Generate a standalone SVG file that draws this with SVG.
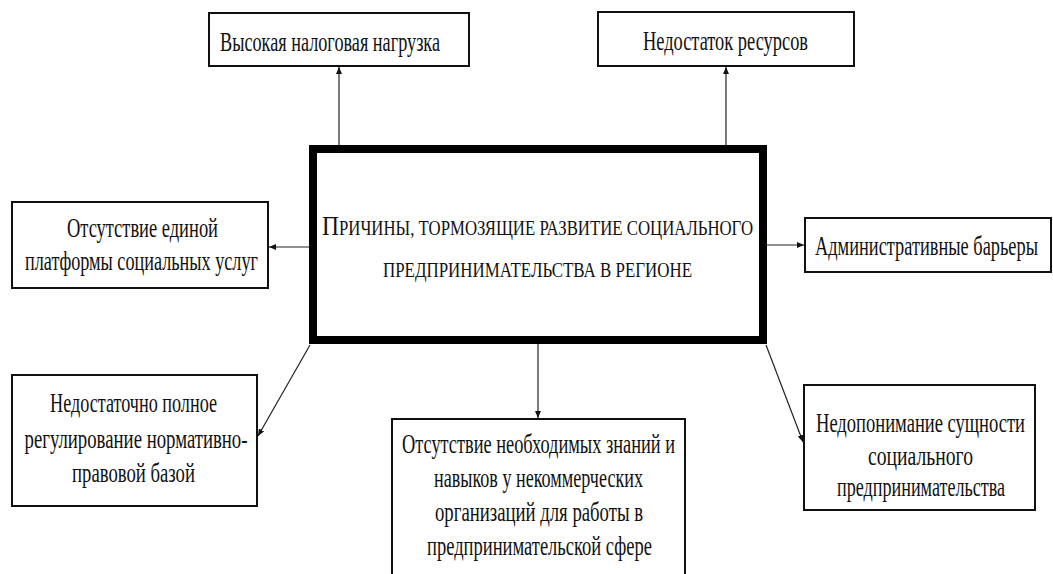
<svg xmlns="http://www.w3.org/2000/svg" width="1053" height="574" viewBox="0 0 1053 574">
<defs>
<style>
.box{fill:#fff;stroke:#111;stroke-width:2}
.main{fill:#fff;stroke:#000;stroke-width:8}
.t{font-family:"Liberation Serif","Times New Roman",serif;font-size:28px;fill:#111;text-anchor:middle}
.mt{font-family:"Liberation Serif","Times New Roman",serif;font-size:20px;fill:#111;text-anchor:middle}
.big{font-size:28px}
.c{stroke:#222;stroke-width:1.2;fill:none;marker-end:url(#ah)}
</style>
<marker id="ah" markerUnits="userSpaceOnUse" markerWidth="8" markerHeight="6" refX="7" refY="3" orient="auto">
<path d="M0,0 L7,3 L0,6 z" fill="#111"/>
</marker>
</defs>
<rect width="1053" height="574" fill="#fff"/>
<g id="connectors">
<line class="c" x1="339" y1="145" x2="339" y2="67"/>
<line class="c" x1="726" y1="145" x2="726" y2="67"/>
<line class="c" x1="309" y1="247" x2="269" y2="247"/>
<line class="c" x1="767" y1="245" x2="804" y2="245"/>
<line class="c" x1="310" y1="345" x2="258" y2="436"/>
<line class="c" x1="538" y1="344" x2="538" y2="418"/>
<line class="c" x1="766" y1="345" x2="803" y2="442"/>
</g>
<g id="main">
<rect class="main" x="313" y="149" width="450" height="191"/>
<text class="mt" transform="translate(537.5,235) scale(0.72,1)" textLength="598.6" lengthAdjust="spacingAndGlyphs"><tspan class="big">П</tspan>РИЧИНЫ, ТОРМОЗЯЩИЕ РАЗВИТИЕ СОЦИАЛЬНОГО</text>
<text class="mt" transform="translate(537.5,277) scale(0.72,1)" textLength="429.2" lengthAdjust="spacingAndGlyphs">ПРЕДПРИНИМАТЕЛЬСТВА В РЕГИОНЕ</text>
</g>
<g id="n1">
<rect class="box" x="209" y="13" width="260" height="53"/>
<text class="t" transform="translate(330,51) scale(0.72,1)" textLength="305.6" lengthAdjust="spacingAndGlyphs">Высокая налоговая нагрузка</text>
</g>
<g id="n2">
<rect class="box" x="598" y="12" width="256" height="54"/>
<text class="t" transform="translate(725.5,50) scale(0.72,1)" textLength="229.2" lengthAdjust="spacingAndGlyphs">Недостаток ресурсов</text>
</g>
<g id="n3">
<rect class="box" x="12" y="202" width="256" height="86"/>
<text class="t" transform="translate(142.5,237) scale(0.72,1)" textLength="209.7" lengthAdjust="spacingAndGlyphs">Отсутствие единой</text>
<text class="t" transform="translate(141.5,270) scale(0.72,1)" textLength="323.6" lengthAdjust="spacingAndGlyphs">платформы социальных услуг</text>
</g>
<g id="n4">
<rect class="box" x="805" y="218" width="246" height="54"/>
<text class="t" transform="translate(926.5,255) scale(0.62,1)" textLength="359.7" lengthAdjust="spacingAndGlyphs">Административные барьеры</text>
</g>
<g id="n5">
<rect class="box" x="12" y="375" width="245" height="131"/>
<text class="t" transform="translate(133.5,412) scale(0.72,1)" textLength="231.9" lengthAdjust="spacingAndGlyphs">Недостаточно полное</text>
<text class="t" transform="translate(136,448) scale(0.72,1)" textLength="309.7" lengthAdjust="spacingAndGlyphs">регулирование нормативно-</text>
<text class="t" transform="translate(133.5,482) scale(0.72,1)" textLength="170.8" lengthAdjust="spacingAndGlyphs">правовой базой</text>
</g>
<g id="n6">
<rect class="box" x="392" y="419" width="293" height="175"/>
<text class="t" transform="translate(538.5,453) scale(0.72,1)" textLength="379.2" lengthAdjust="spacingAndGlyphs">Отсутствие необходимых знаний и</text>
<text class="t" transform="translate(538.5,487) scale(0.72,1)" textLength="290.3" lengthAdjust="spacingAndGlyphs">навыков у некоммерческих</text>
<text class="t" transform="translate(539,521) scale(0.72,1)" textLength="288.9" lengthAdjust="spacingAndGlyphs">организаций для работы в</text>
<text class="t" transform="translate(539.5,555) scale(0.72,1)" textLength="312.5" lengthAdjust="spacingAndGlyphs">предпринимательской сфере</text>
</g>
<g id="n7">
<rect class="box" x="804" y="385" width="231" height="125"/>
<text class="t" transform="translate(920.5,432) scale(0.72,1)" textLength="290.3" lengthAdjust="spacingAndGlyphs">Недопонимание сущности</text>
<text class="t" transform="translate(920.5,465) scale(0.72,1)" textLength="145.8" lengthAdjust="spacingAndGlyphs">социального</text>
<text class="t" transform="translate(921,496) scale(0.72,1)" textLength="233.3" lengthAdjust="spacingAndGlyphs">предпринимательства</text>
</g>
</svg>
